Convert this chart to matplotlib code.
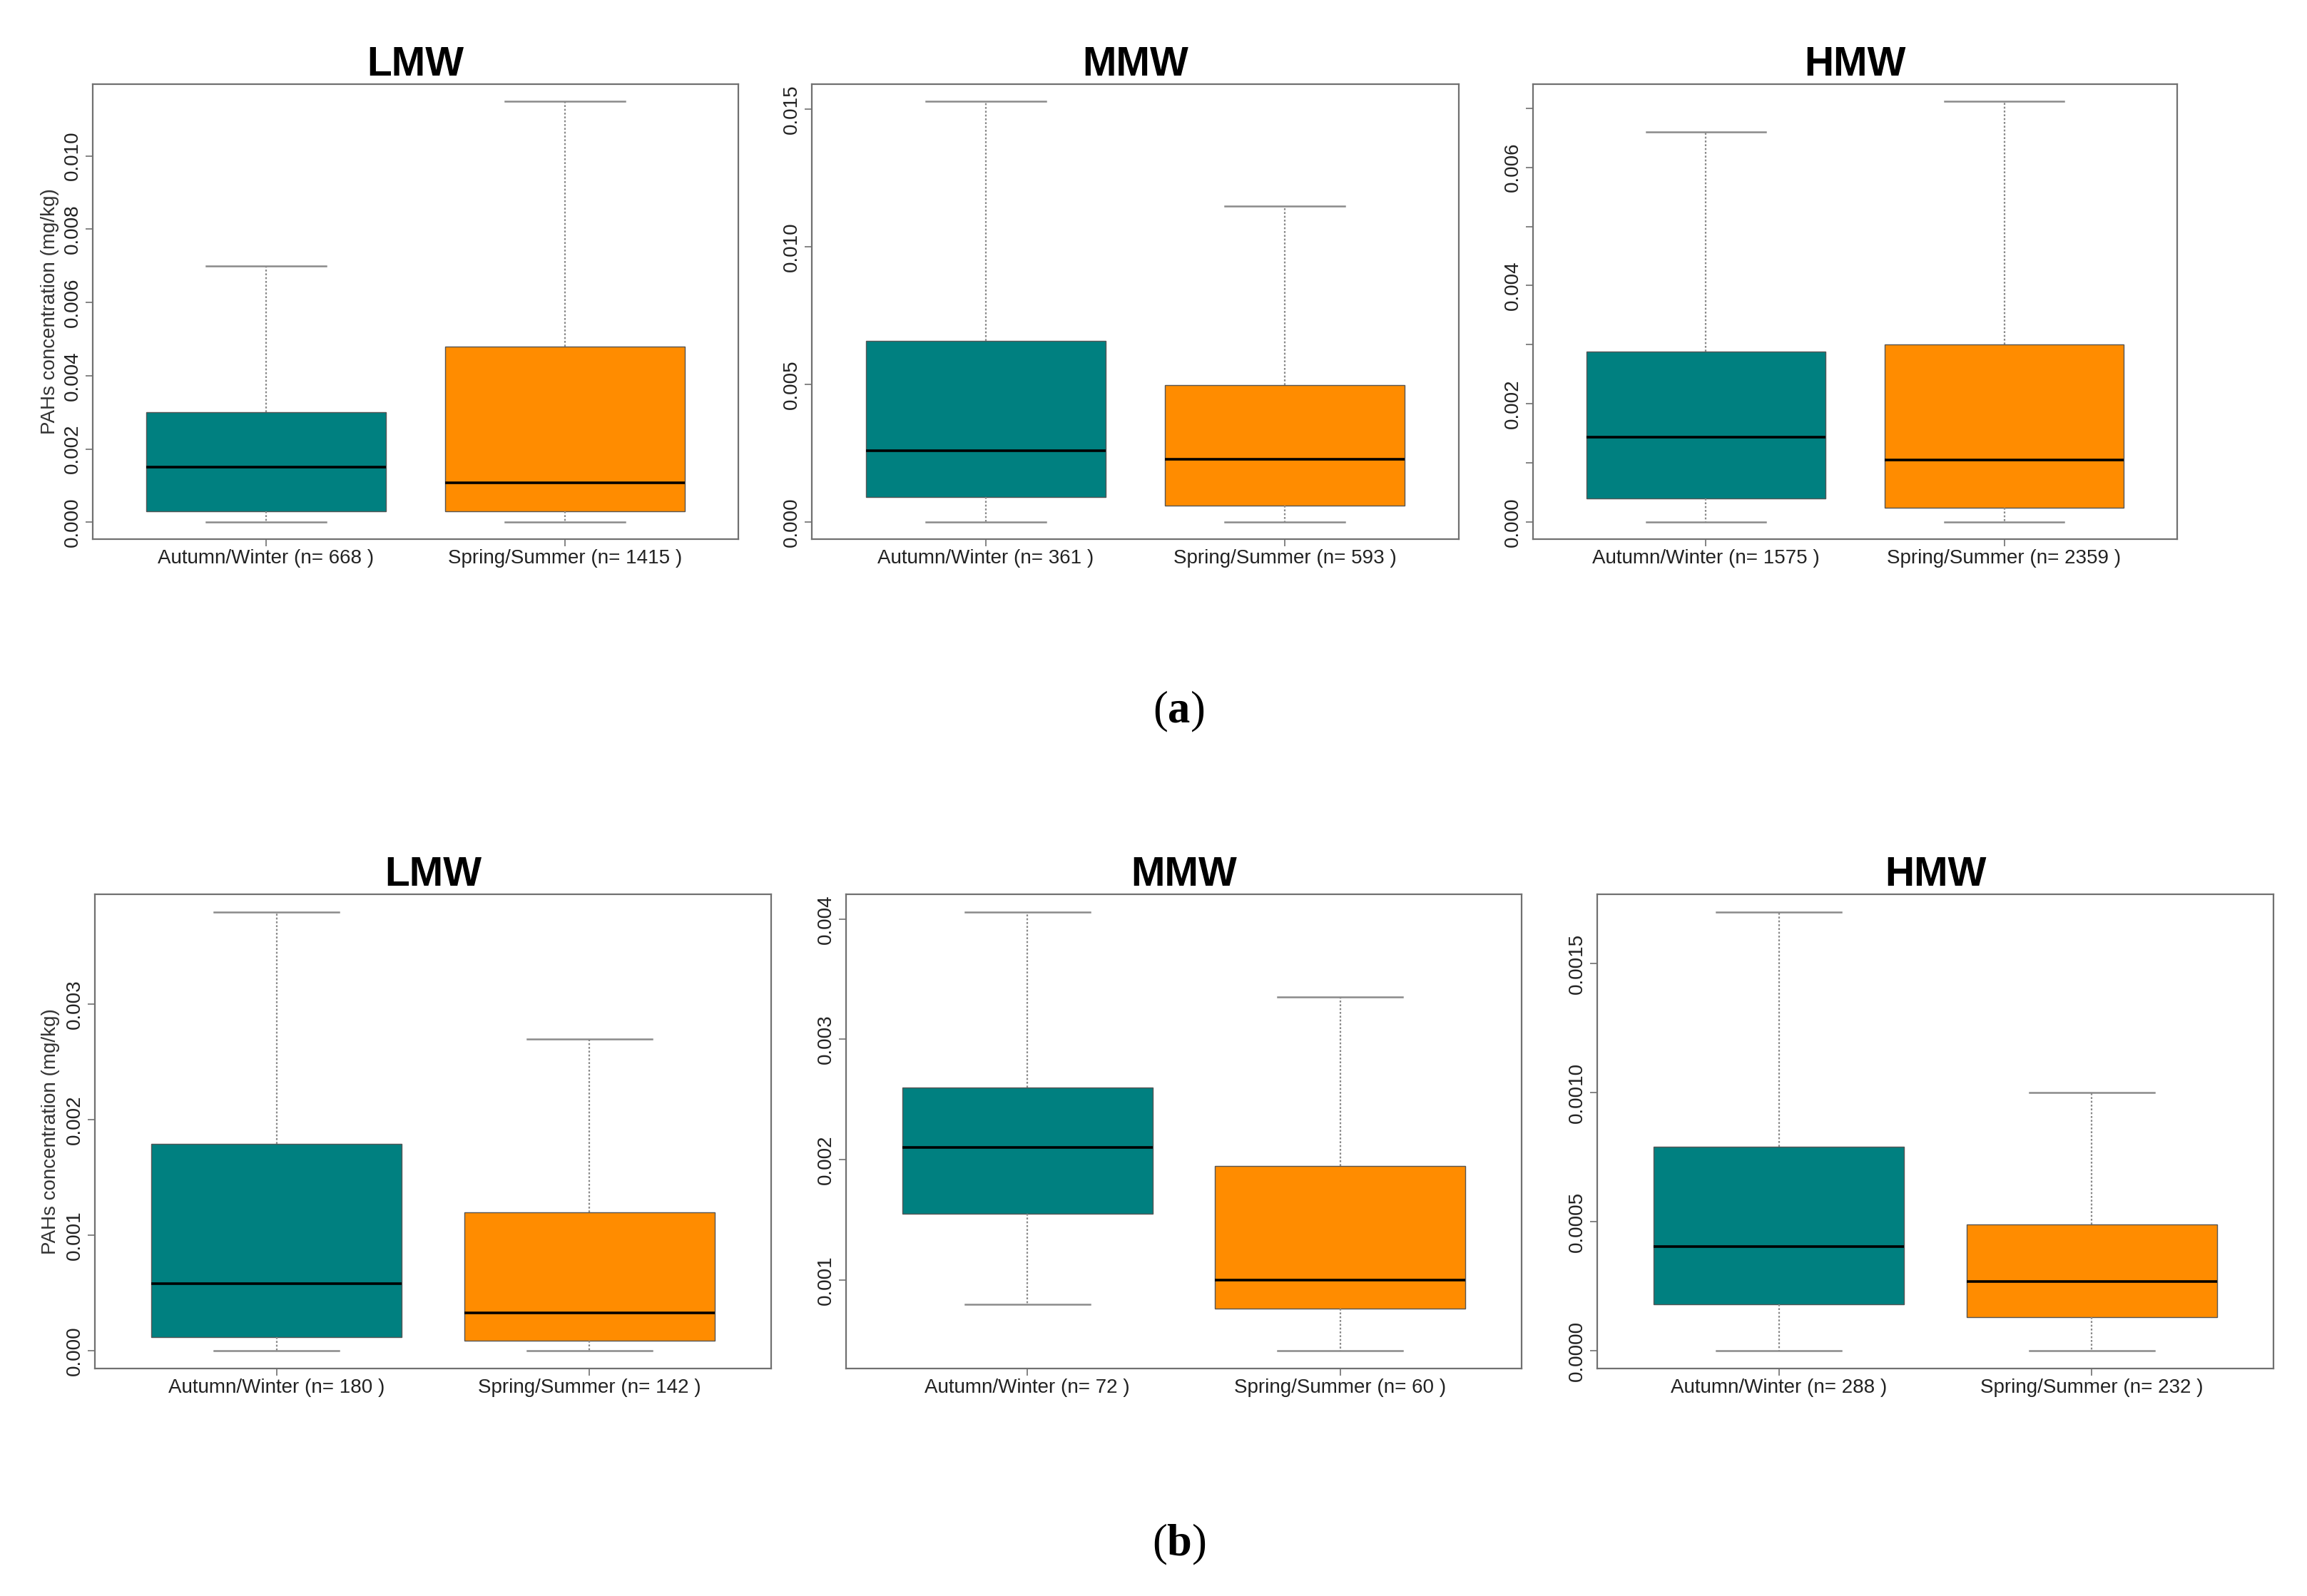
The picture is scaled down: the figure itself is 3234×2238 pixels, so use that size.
import matplotlib
matplotlib.use("Agg")
import matplotlib.pyplot as plt

plt.rcParams['font.family'] = ['Liberation Sans', 'DejaVu Sans']
plt.rcParams['mathtext.fontset'] = 'custom'
plt.rcParams['mathtext.rm'] = 'Liberation Serif'
plt.rcParams['mathtext.bf'] = 'Liberation Serif:bold'

groups = ["LMW", "MMW", "HMW"]
seasons = ["Autumn/Winter", "Spring/Summer"]
colors = ["#008080", "#FF8C00"]

# panel (a): per group [Autumn/Winter, Spring/Summer]
a_n = [[668, 1415], [361, 593], [1575, 2359]]
a_whislo = [[0.0, 0.0], [0.0, 0.0], [0.0, 0.0]]
a_q1 = [[0.0003, 0.0003], [0.00092, 0.0006], [0.0004, 0.00024]]
a_med = [[0.0015, 0.00108], [0.0026, 0.0023], [0.00144, 0.00105]]
a_q3 = [[0.0030, 0.0048], [0.0066, 0.00497], [0.00289, 0.0030]]
a_whishi = [[0.0070, 0.0115], [0.0153, 0.01149], [0.0066, 0.00712]]
a_yticks = [[0, 0.002, 0.004, 0.006, 0.008, 0.010],
            [0, 0.005, 0.010, 0.015],
            [0, 0.002, 0.004, 0.006]]
a_yminor = [[], [], [0.001, 0.003, 0.005, 0.007]]
a_decimals = [3, 3, 3]

# panel (b)
b_n = [[180, 142], [72, 60], [288, 232]]
b_whislo = [[0.0, 0.0], [0.0008, 0.00041], [0.0, 0.0]]
b_q1 = [[0.00012, 0.00009], [0.00155, 0.00076], [0.00018, 0.00013]]
b_med = [[0.00058, 0.00033], [0.0021, 0.0010], [0.000405, 0.00027]]
b_q3 = [[0.00179, 0.0012], [0.0026, 0.00195], [0.00079, 0.00049]]
b_whishi = [[0.0038, 0.0027], [0.00406, 0.00335], [0.0017, 0.0010]]
b_yticks = [[0, 0.001, 0.002, 0.003],
            [0.001, 0.002, 0.003, 0.004],
            [0, 0.0005, 0.0010, 0.0015]]
b_yminor = [[], [], []]
b_decimals = [3, 3, 4]

W, H = 3234, 2238
fig = plt.figure(figsize=(W / 100, H / 100), dpi=100)

# axes boxes in pixels: (left, top, right, bottom)
rows = [
    dict(n=a_n, lo=a_whislo, q1=a_q1, med=a_med, q3=a_q3, hi=a_whishi,
         ticks=a_yticks, minor=a_yminor, dec=a_decimals,
         boxes=[(130, 118, 1035, 756), (1138, 118, 2045, 756), (2149, 118, 3052, 756)]),
    dict(n=b_n, lo=b_whislo, q1=b_q1, med=b_med, q3=b_q3, hi=b_whishi,
         ticks=b_yticks, minor=b_yminor, dec=b_decimals,
         boxes=[(133, 1254, 1081, 1919), (1186, 1254, 2133, 1919), (2239, 1254, 3187, 1919)]),
]

frame_col = "#707070"
for row in rows:
    for g, name in enumerate(groups):
        l, t, r, b = row['boxes'][g]
        ax = fig.add_axes([l / W, 1 - b / H, (r - l) / W, (b - t) / H])
        ax.margins(y=0.04)
        stats = []
        for s in range(2):
            stats.append(dict(med=row['med'][g][s], q1=row['q1'][g][s], q3=row['q3'][g][s],
                              whislo=row['lo'][g][s], whishi=row['hi'][g][s],
                              label=f"{seasons[s]} (n= {row['n'][g][s]} )"))
        res = ax.bxp(stats, positions=[1, 2], widths=0.8, capwidths=0.4,
                     showfliers=False, patch_artist=True,
                     boxprops=dict(edgecolor="#555555", linewidth=1.0),
                     medianprops=dict(color="black", linewidth=2.6),
                     whiskerprops=dict(color="#8a8a8a", linestyle=(0, (1.2, 1.2)), linewidth=1.6),
                     capprops=dict(color="#8a8a8a", linewidth=1.8))
        for patch, c in zip(res['boxes'], colors):
            patch.set_facecolor(c)
        ax.set_xlim(0.42, 2.58)
        ax.set_xticks([1, 2], [st['label'] for st in stats], fontsize=20, color="#222222")
        labels = [f"{v:.{row['dec'][g]}f}" for v in row['ticks'][g]]
        ax.set_yticks(row['ticks'][g], labels, rotation=90, va='center',
                      fontsize=20, color="#222222")
        if row['minor'][g]:
            ax.set_yticks(row['minor'][g], minor=True)
        ax.tick_params(axis='both', which='both', length=7, width=1.2, color=frame_col)
        ax.tick_params(axis='y', pad=4)
        ax.tick_params(axis='x', pad=3)
        for sp in ax.spines.values():
            sp.set_color(frame_col)
            sp.set_linewidth(1.6)
        ax.set_title(name, fontsize=41, fontweight='bold', pad=8)
        if g == 0:
            ax.set_ylabel("PAHs concentration (mg/kg)", fontsize=20, color="#333333")
            ax.yaxis.set_label_coords(-0.052, 0.5)

fig.text(0.511, 1 - 998 / H, r"($\mathbf{a}$)", ha='center', va='center',
         fontsize=45, family='Liberation Serif')
fig.text(0.511, 1 - 2166 / H, r"($\mathbf{b}$)", ha='center', va='center',
         fontsize=45, family='Liberation Serif')

fig.savefig("out.png", dpi=100, facecolor="white")
